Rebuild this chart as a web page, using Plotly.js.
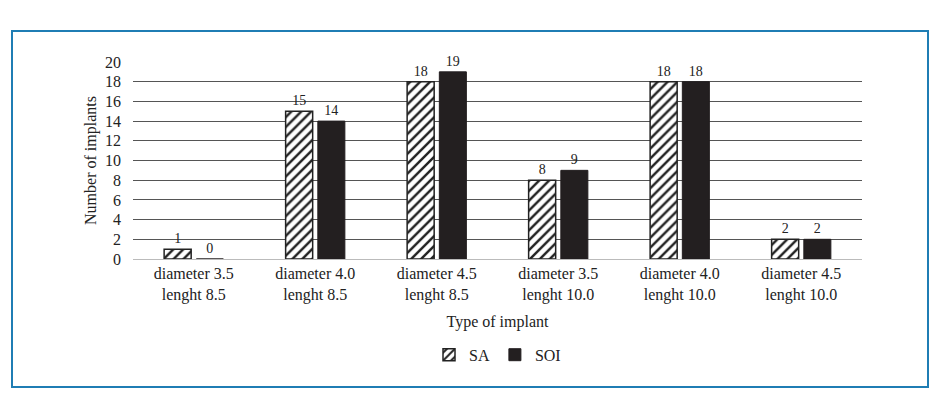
<!DOCTYPE html>
<html>
<head>
<meta charset="utf-8">
<script src="https://cdn.plot.ly/plotly-3.0.1.min.js"></script>
<style>
html,body{margin:0;padding:0;background:#fff;}
#frame{position:absolute;left:11px;top:30px;width:914px;height:354px;border:2px solid #1f7db4;}
#chart{position:absolute;left:0;top:0;width:939px;height:395px;}
</style>
</head>
<body>
<div id="frame"></div>
<div id="chart"></div>
<script>
const categories = ["diameter 3.5<br>lenght 8.5","diameter 4.0<br>lenght 8.5","diameter 4.5<br>lenght 8.5","diameter 3.5<br>lenght 10.0","diameter 4.0<br>lenght 10.0","diameter 4.5<br>lenght 10.0"];
const saValues = [1, 15, 18, 8, 18, 2];
const soiValues = [0, 14, 19, 9, 18, 2];
const yTicks = [0,2,4,6,8,10,12,14,16,18,20];

const font = {family: "Liberation Serif, Times New Roman, serif", color: "#222"};

const traces = [
  {
    type: "bar", name: "SA", x: categories, y: saValues,
    text: saValues.map(String), textposition: "outside", cliponaxis: false,
    textfont: {family: font.family, size: 14, color: "#222"},
    marker: {color: "#ffffff", line: {color: "#222", width: 1.5},
      pattern: {shape: "/", fgcolor: "#222", bgcolor: "#ffffff", size: 7, solidity: 0.35, fillmode: "replace"}}
  },
  {
    type: "bar", name: "SOI", x: categories, y: soiValues,
    text: soiValues.map(String), textposition: "outside", cliponaxis: false,
    textfont: {family: font.family, size: 14, color: "#222"},
    marker: {color: "#231f20", line: {color: "#231f20", width: 1}}
  }
];

const layout = {
  width: 939, height: 395,
  paper_bgcolor: "rgba(0,0,0,0)", plot_bgcolor: "rgba(0,0,0,0)",
  margin: {l: 133, r: 77, t: 62, b: 136},
  font: {family: font.family, size: 16, color: "#222"},
  barmode: "group", bargap: 0.47, bargroupgap: 0.16,
  showlegend: true,
  legend: {orientation: "h", x: 0.5, xanchor: "center", y: -0.4, yanchor: "top", font: {size: 16}, itemwidth: 30, traceorder: "normal", tracegroupgap: 0},
  xaxis: {
    type: "category", showgrid: false, showline: true, linecolor: "#bbb", linewidth: 1,
    ticks: "", tickfont: {size: 16},
    title: {text: "Type of implant", font: {size: 16}, standoff: 12}
  },
  yaxis: {
    range: [0, 20], tickvals: yTicks, ticktext: yTicks.map(String),
    showgrid: true, gridcolor: "#555", gridwidth: 1, zeroline: false, showline: false,
    ticks: "", ticklen: 0, tickfont: {size: 16}, ticklabelstandoff: 11,
    title: {text: "Number of implants", font: {size: 16}, standoff: 4}
  }
};

Plotly.newPlot("chart", traces, layout, {displayModeBar: false, staticPlot: true});
</script>
</body>
</html>
